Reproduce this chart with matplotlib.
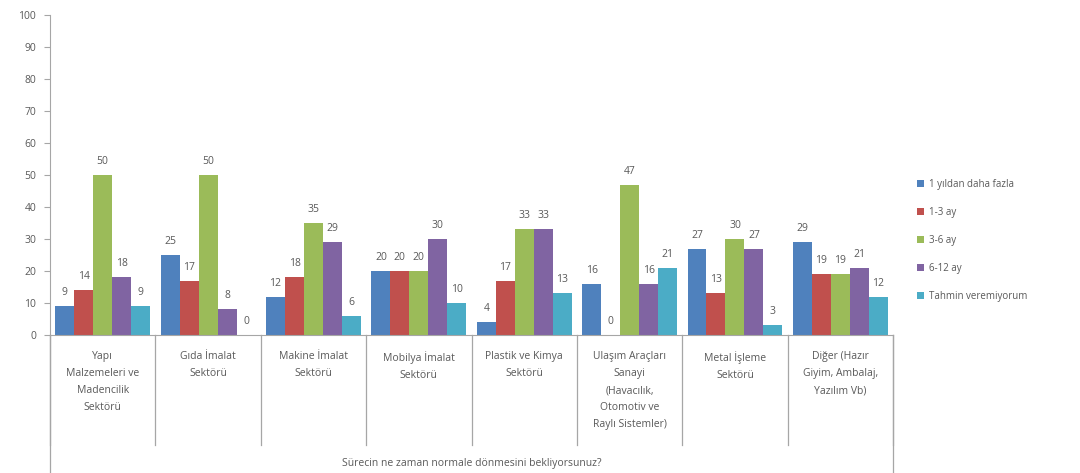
import matplotlib
matplotlib.use("Agg")
import matplotlib.pyplot as plt
import numpy as np

categories = [
    "Yapı\nMalzemeleri ve\nMadencilik\nSektörü",
    "Gıda İmalat\nSektörü",
    "Makine İmalat\nSektörü",
    "Mobilya İmalat\nSektörü",
    "Plastik ve Kimya\nSektörü",
    "Ulaşım Araçları\nSanayi\n(Havacılık,\nOtomotiv ve\nRaylı Sistemler)",
    "Metal İşleme\nSektörü",
    "Diğer (Hazır\nGiyim, Ambalaj,\nYazılım Vb)",
]
series_names = ["1 yıldan daha fazla", "1-3 ay", "3-6 ay", "6-12 ay", "Tahmin veremiyorum"]
yil_1_fazla = [9, 25, 12, 20, 4, 16, 27, 29]
ay_1_3 = [14, 17, 18, 20, 17, 0, 13, 19]
ay_3_6 = [50, 50, 35, 20, 33, 47, 30, 19]
ay_6_12 = [18, 8, 29, 30, 33, 16, 27, 21]
tahmin_yok = [9, 0, 6, 10, 13, 21, 3, 12]
series = [yil_1_fazla, ay_1_3, ay_3_6, ay_6_12, tahmin_yok]
colors = ["#4F81BD", "#C0504D", "#9BBB59", "#8064A2", "#4BACC6"]
yticks = list(range(0, 101, 10))
axis_title = "Sürecin ne zaman normale dönmesini bekliyorsunuz?"

plt.rcParams['font.family'] = ['Open Sans', 'DejaVu Sans']
txt = "#595959"
line = "#A6A6A6"

fig = plt.figure(figsize=(10.8, 4.73), dpi=100)
ax = fig.add_axes([50/1080, 1-335/473, (893-50)/1080, 320/473])

n = len(categories)
x = np.arange(n)
w = 0.18
for i, (vals, c, name) in enumerate(zip(series, colors, series_names)):
    pos = x + (i - 2) * w
    bars = ax.bar(pos, vals, width=w, color=c, label=name, zorder=2)
    for p, v in zip(pos, vals):
        ax.text(p, v + 2.5, str(v), ha="center", va="bottom", fontsize=7.5, color=txt)

ax.set_xlim(-0.5, n - 0.5)
ax.set_ylim(0, 100)
ax.set_yticks(yticks)
ax.tick_params(axis="y", labelsize=7.5, labelcolor=txt, color=line, length=4, direction="out", pad=6)
ax.set_xticks([])
for s in ["top", "right"]:
    ax.spines[s].set_visible(False)
ax.spines["left"].set_color(line)
ax.spines["bottom"].set_color(line)
ax.spines["left"].set_bounds(0, 100)

# category labels and separators
trans = ax.get_xaxis_transform()
for i, lab in enumerate(categories):
    ax.text(i, -0.05, lab, transform=trans, ha="center", va="top", fontsize=7.5,
            color=txt, linespacing=1.75, clip_on=False)
sep_low = -(445 - 335) / 320
for b in np.arange(-0.5, n, 1.0):
    ax.plot([b, b], [0, sep_low], transform=trans, color=line, lw=0.9, clip_on=False)
bottom = -(473 - 335) / 320
ax.plot([-0.5, -0.5], [0, bottom], transform=trans, color=line, lw=0.9, clip_on=False)
ax.plot([n - 0.5, n - 0.5], [0, bottom], transform=trans, color=line, lw=0.9, clip_on=False)
ax.text((n - 1) / 2, -(463 - 335) / 320, axis_title, transform=trans, ha="center",
        va="center", fontsize=7.5, color=txt, clip_on=False)

leg = fig.legend(loc="upper left", bbox_to_anchor=(908/1080, 1 - 170/473), frameon=False,
                 fontsize=7, labelspacing=1.75, handlelength=0.7, handleheight=0.7,
                 handletextpad=0.6)
for t in leg.get_texts():
    t.set_color(txt)

fig.savefig("out.png", dpi=100)
